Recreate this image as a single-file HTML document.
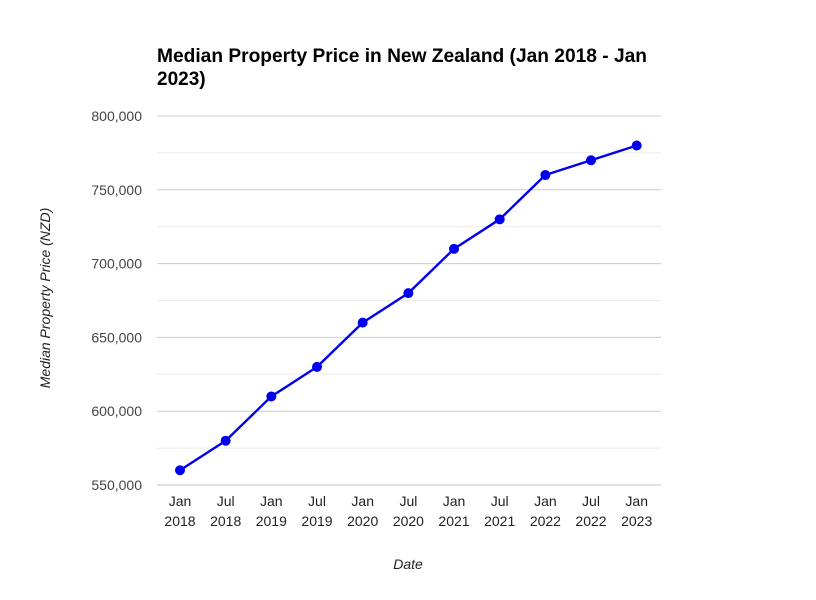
<!DOCTYPE html>
<html>
<head>
<meta charset="utf-8">
<style>
  html, body { margin:0; padding:0; background:#fff; }
  svg { display:block; }
  text { font-family: "Liberation Sans", Arial, sans-serif; }
</style>
</head>
<body>
<svg width="816" height="600" viewBox="0 0 816 600" xmlns="http://www.w3.org/2000/svg">
  <rect width="816" height="600" fill="#fff"/>
  <!-- Title -->
  <text x="157" y="62" font-size="19" font-weight="bold" fill="#000" textLength="490" lengthAdjust="spacingAndGlyphs">Median Property Price in New Zealand (Jan 2018 - Jan</text>
  <text x="157" y="85" font-size="19" font-weight="bold" fill="#000">2023)</text>

  <!-- minor gridlines -->
  <g stroke="#ebebeb" stroke-width="1">
    <line x1="157" x2="661" y1="152.9" y2="152.9"/>
    <line x1="157" x2="661" y1="226.7" y2="226.7"/>
    <line x1="157" x2="661" y1="300.5" y2="300.5"/>
    <line x1="157" x2="661" y1="374.3" y2="374.3"/>
    <line x1="157" x2="661" y1="448.1" y2="448.1"/>
  </g>
  <!-- major gridlines -->
  <g stroke="#cccccc" stroke-width="1">
    <line x1="157" x2="661" y1="116" y2="116"/>
    <line x1="157" x2="661" y1="189.8" y2="189.8"/>
    <line x1="157" x2="661" y1="263.6" y2="263.6"/>
    <line x1="157" x2="661" y1="337.4" y2="337.4"/>
    <line x1="157" x2="661" y1="411.2" y2="411.2"/>
    <line x1="157" x2="661" y1="485" y2="485" stroke="#c4c4c4"/>
  </g>

  <!-- y tick labels -->
  <g font-size="14" fill="#444" text-anchor="end">
    <text x="142" y="121">800,000</text>
    <text x="142" y="194.8">750,000</text>
    <text x="142" y="268.6">700,000</text>
    <text x="142" y="342.4">650,000</text>
    <text x="142" y="416.2">600,000</text>
    <text x="142" y="490">550,000</text>
  </g>

  <!-- x tick labels -->
  <g font-size="14" fill="#222" text-anchor="middle">
    <text x="180" y="506">Jan</text><text x="180" y="526">2018</text>
    <text x="225.7" y="506">Jul</text><text x="225.7" y="526">2018</text>
    <text x="271.3" y="506">Jan</text><text x="271.3" y="526">2019</text>
    <text x="317" y="506">Jul</text><text x="317" y="526">2019</text>
    <text x="362.7" y="506">Jan</text><text x="362.7" y="526">2020</text>
    <text x="408.4" y="506">Jul</text><text x="408.4" y="526">2020</text>
    <text x="454" y="506">Jan</text><text x="454" y="526">2021</text>
    <text x="499.7" y="506">Jul</text><text x="499.7" y="526">2021</text>
    <text x="545.4" y="506">Jan</text><text x="545.4" y="526">2022</text>
    <text x="591" y="506">Jul</text><text x="591" y="526">2022</text>
    <text x="636.7" y="506">Jan</text><text x="636.7" y="526">2023</text>
  </g>

  <!-- axis titles -->
  <text x="408" y="569" font-size="14" font-style="italic" fill="#222" text-anchor="middle">Date</text>
  <text transform="translate(50,298) rotate(-90)" font-size="14" font-style="italic" fill="#222" text-anchor="middle">Median Property Price (NZD)</text>

  <!-- series -->
  <polyline fill="none" stroke="#0000ee" stroke-width="2.4" stroke-linejoin="round"
    points="180,470.24 225.67,440.72 271.34,396.44 317.01,366.92 362.68,322.64 408.35,293.12 454.02,248.84 499.69,219.32 545.36,175.04 591.03,160.28 636.7,145.52"/>
  <g fill="#0000ee">
    <circle cx="180" cy="470.24" r="5"/>
    <circle cx="225.67" cy="440.72" r="5"/>
    <circle cx="271.34" cy="396.44" r="5"/>
    <circle cx="317.01" cy="366.92" r="5"/>
    <circle cx="362.68" cy="322.64" r="5"/>
    <circle cx="408.35" cy="293.12" r="5"/>
    <circle cx="454.02" cy="248.84" r="5"/>
    <circle cx="499.69" cy="219.32" r="5"/>
    <circle cx="545.36" cy="175.04" r="5"/>
    <circle cx="591.03" cy="160.28" r="5"/>
    <circle cx="636.7" cy="145.52" r="5"/>
  </g>
</svg>
</body>
</html>
